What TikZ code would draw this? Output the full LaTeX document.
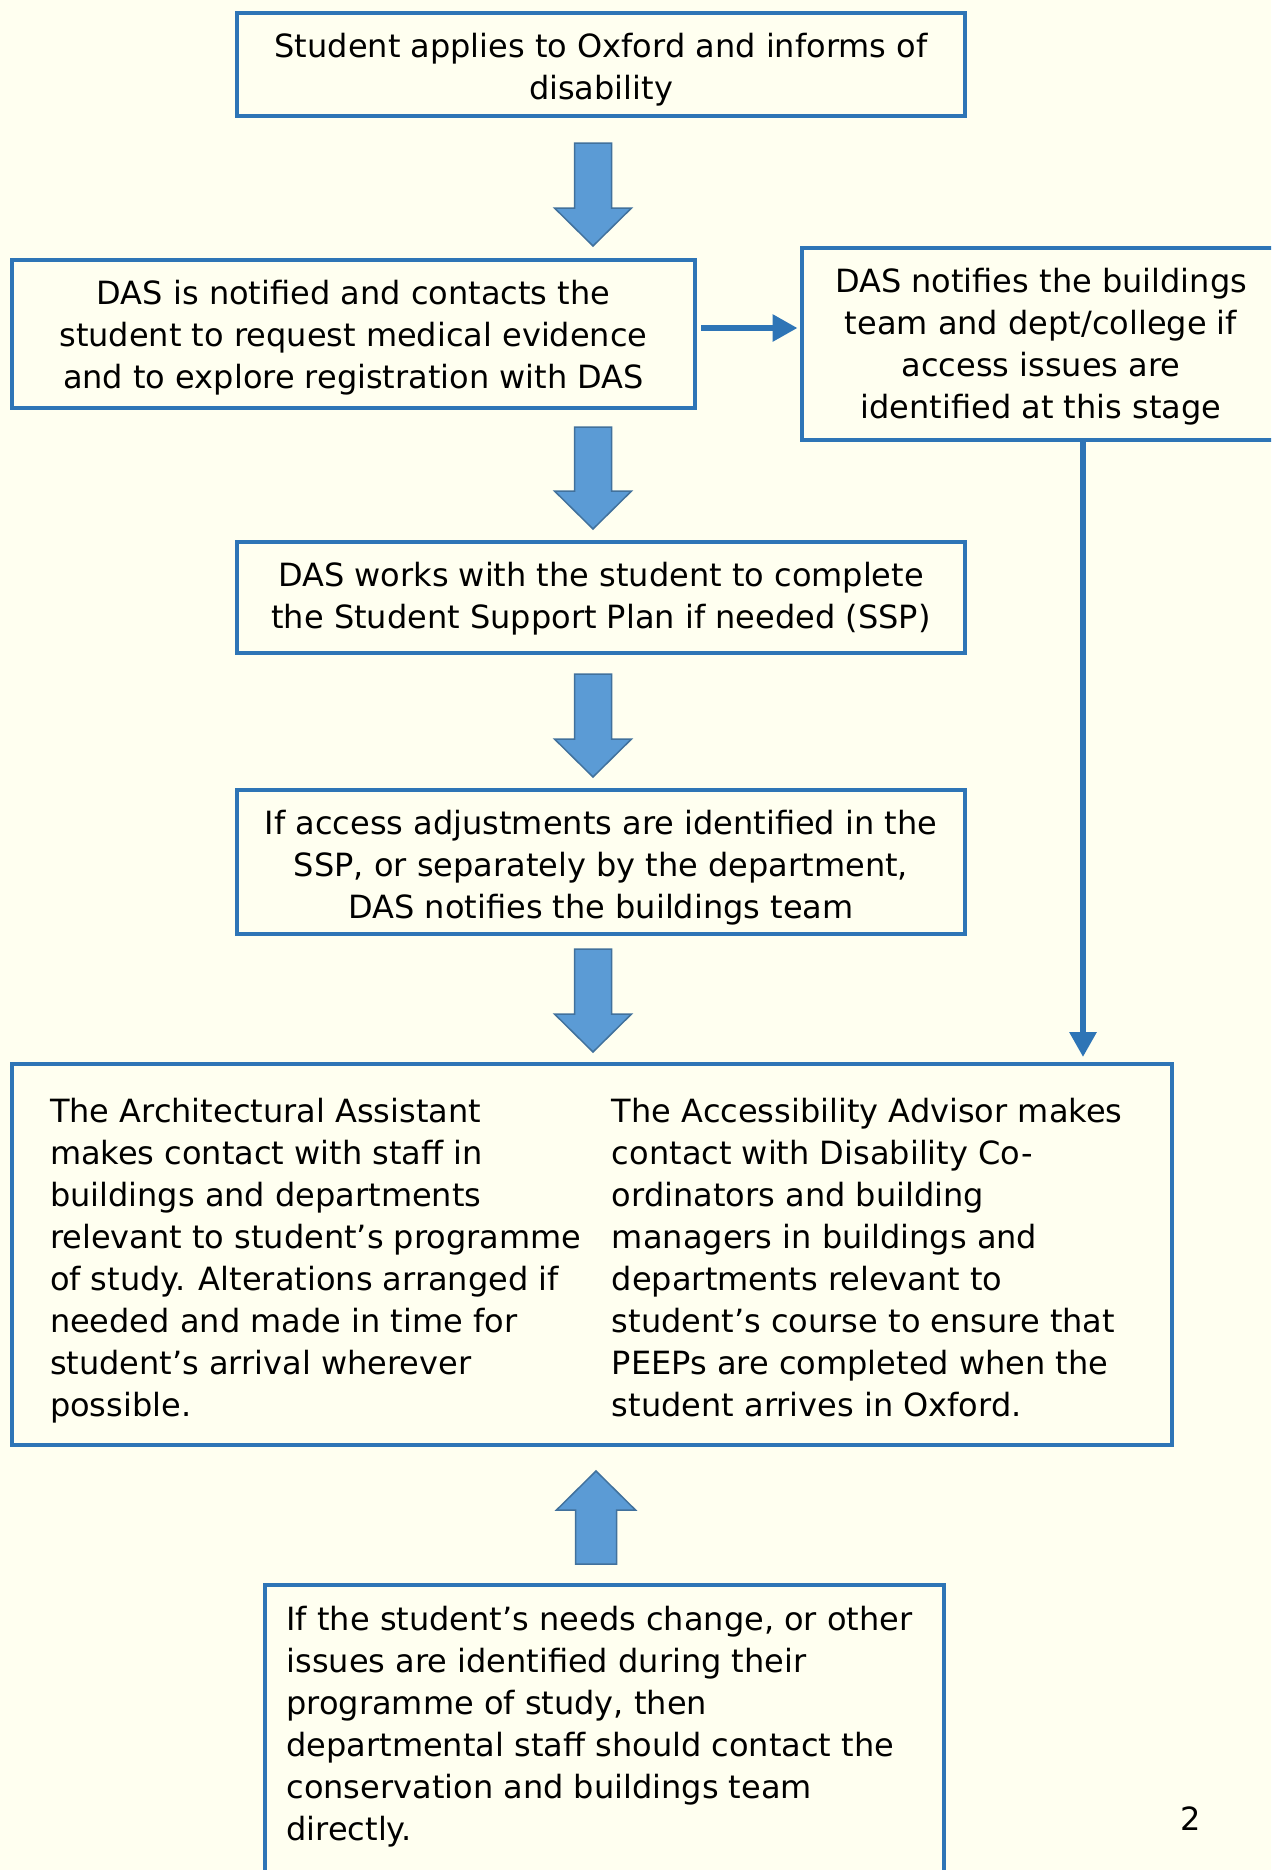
\documentclass[tikz,border=0pt]{standalone}
\usepackage{fontspec}
\setmainfont{DejaVu Sans}
\usetikzlibrary{calc,arrows.meta}
\definecolor{bg}{RGB}{255,255,240}
\definecolor{boxblue}{RGB}{46,117,182}
\definecolor{arrowfill}{RGB}{91,155,213}
\definecolor{arrowline}{RGB}{65,113,156}
\newcommand{\blockdown}[2]{%
  \draw[barrow] ($(#1)+(-18.5,0)$) -- ($(#1)+(18.5,0)$) -- ($(#2)+(18.5,-38)$) -- ($(#2)+(38.5,-38)$) -- (#2) -- ($(#2)+(-38.5,-38)$) -- ($(#2)+(-18.5,-38)$) -- cycle;}
\newcommand{\blockup}[2]{%
  \draw[barrow] ($(#1)+(-20.5,0)$) -- ($(#1)+(20.5,0)$) -- ($(#2)+(20.5,39)$) -- ($(#2)+(39.5,39)$) -- (#2) -- ($(#2)+(-39.5,39)$) -- ($(#2)+(-20.5,39)$) -- cycle;}
\begin{document}
\begin{tikzpicture}[x=0.5pt,y=-0.5pt,
  txt/.style={font=\fontsize{16}{21}\selectfont, inner sep=0pt},
  ctxt/.style={txt, align=center},
  box/.style={draw=boxblue, line width=2pt, inner sep=0pt},
  barrow/.style={fill=arrowfill, draw=arrowline, line width=0.75pt, line join=miter},
  conn/.style={draw=boxblue, line width=3pt, -{Triangle[length=12.5pt,width=13pt]}},
]
\fill[bg] (0,0) rectangle (1271,1870);
\useasboundingbox (0,0) rectangle (1271,1870);
\begin{scope}
\clip (0,0) rectangle (1271,1870);

% boxes
\node[box, minimum width=364pt, minimum height=51.5pt] (n1) at (601,64.5) {};
\node[box, minimum width=341.5pt, minimum height=74pt] (n2) at (353.5,334) {};
\node[box, minimum width=239.5pt, minimum height=96pt] (nr) at (1041,344) {};
\node[box, minimum width=364pt, minimum height=55.5pt] (n3) at (601,597.5) {};
\node[box, minimum width=364pt, minimum height=72pt] (n4) at (601,862) {};
\node[box, minimum width=580pt, minimum height=190.5pt] (n5) at (592,1254.5) {};
\node[box, minimum width=339.5pt, minimum height=146pt] (n6) at (604.5,1731) {};

% texts
\node[ctxt] (t1) at ($(n1.center)+(0,5)$)
  {Student applies to Oxford and informs of\\disability};
\node[ctxt] (t2) at ($(n2.center)+(0,4)$)
  {DAS is notified and contacts the\\student to request medical evidence\\and to explore registration with DAS};
\node[ctxt] (tr) at ($(nr.center)+(0,3)$)
  {DAS notifies the buildings\\team and dept/college if\\access issues are\\identified at this stage};
\node[ctxt] (t3) at ($(n3.center)+(0,1)$)
  {DAS works with the student to complete\\the Student Support Plan if needed (SSP)};
\node[ctxt] (t4) at ($(n4.center)+(0,6)$)
  {If access adjustments are identified in the\\SSP, or separately by the department,\\DAS notifies the buildings team};
\node[txt] (t5) at ($(n5.center)+(0,6)$)
  {\parbox[t]{281pt}{\raggedright The Architectural Assistant\\makes contact with staff in\\buildings and departments\\relevant to student’s programme\\of study. Alterations arranged if\\needed and made in time for\\student’s arrival wherever\\possible.}%
   \parbox[t]{261pt}{\raggedright The Accessibility Advisor makes\\contact with Disability Co-\\ordinators and building\\managers in buildings and\\departments relevant to\\student’s course to ensure that\\PEEPs are completed when the\\student arrives in Oxford.}};
\node[txt, align=left] (t6) at ($(n6.center)+(-5,-4)$)
  {If the student’s needs change, or other\\issues are identified during their\\programme of study, then\\departmental staff should contact the\\conservation and buildings team\\directly.};
\node[txt, anchor=base] (pg) at (1191,1830) {2};

% block arrows
\coordinate (ax) at (593,0);
\coordinate (a1s) at ($(ax |- n1.south)+(0,25)$);
\coordinate (a1e) at ($(ax |- n2.north)+(0,-12)$);
\blockdown{a1s}{a1e}
\coordinate (a2s) at ($(ax |- n2.south)+(0,17)$);
\coordinate (a2e) at ($(ax |- n3.north)+(0,-11)$);
\blockdown{a2s}{a2e}
\coordinate (a3s) at ($(ax |- n3.south)+(0,19)$);
\coordinate (a3e) at ($(ax |- n4.north)+(0,-11)$);
\blockdown{a3s}{a3e}
\coordinate (a4s) at ($(ax |- n4.south)+(0,13)$);
\coordinate (a4e) at ($(ax |- n5.north)+(0,-10)$);
\blockdown{a4s}{a4e}
\coordinate (bx) at (596,0);
\coordinate (a5s) at ($(bx |- n6.north)+(0,-19)$);
\coordinate (a5e) at ($(bx |- n5.south)+(0,24)$);
\blockup{a5s}{a5e}

% thin connectors
\coordinate (h1) at ($(n2.east)+(4,-6)$);
\draw[conn, shorten >=1pt] (h1) -- (h1 -| nr.west);
\coordinate (vx) at (1083,0);
\draw[conn, shorten >=2.5pt] (vx |- nr.south) -- (vx |- n5.north);
\end{scope}
\end{tikzpicture}
\end{document}
